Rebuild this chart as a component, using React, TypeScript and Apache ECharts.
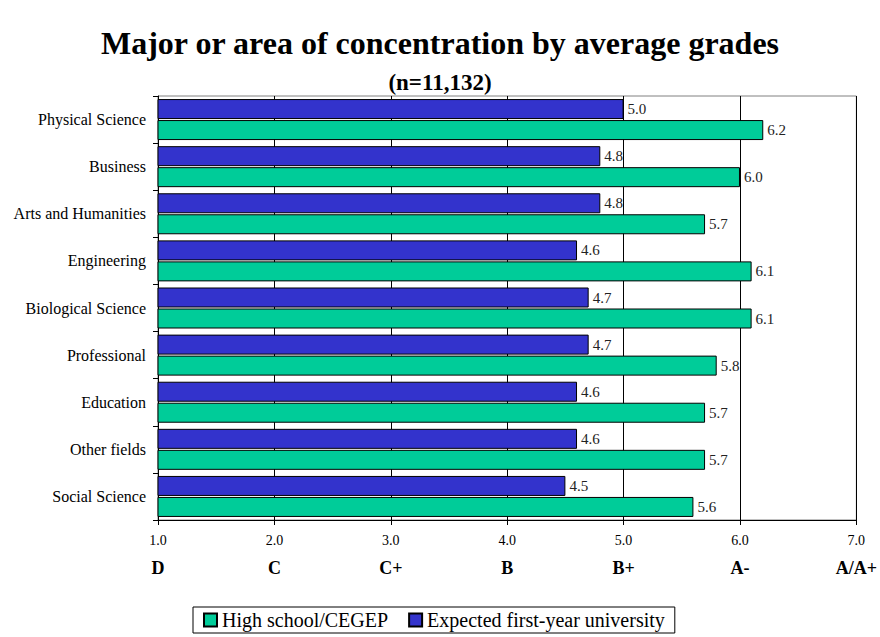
import React, { useEffect, useRef } from "react";
import * as echarts from "echarts";

const categories = [
  "Physical Science",
  "Business",
  "Arts and Humanities",
  "Engineering",
  "Biological Science",
  "Professional",
  "Education",
  "Other fields",
  "Social Science",
];
const highSchool = [6.2, 6.0, 5.7, 6.1, 6.1, 5.8, 5.7, 5.7, 5.6];
const expectedUniversity = [5.0, 4.8, 4.8, 4.6, 4.7, 4.7, 4.6, 4.6, 4.5];
const gradeLetters = ["D", "C", "C+", "B", "B+", "A-", "A/A+"];
const seriesNames = ["High school/CEGEP", "Expected first-year university"];

const FONT = '"Liberation Serif", "Times New Roman", serif';

export default function App() {
  const ref = useRef<HTMLDivElement>(null);
  useEffect(() => {
    if (!ref.current) return;
    const chart = echarts.init(ref.current, undefined, { renderer: "svg" });
    const labelCfg = {
      show: true,
      position: "right",
      distance: 4,
      fontFamily: FONT,
      fontSize: 15,
      color: "#222",
      formatter: (p: any) => Number(p.value).toFixed(1),
    };
    chart.setOption({
      animation: false,
      backgroundColor: "#fff",
      title: [
        {
          text: "Major or area of concentration by average grades",
          left: "center",
          top: 22,
          textStyle: { fontFamily: FONT, fontSize: 32, fontWeight: "bold", color: "#000" },
        },
        {
          text: "(n=11,132)",
          left: "center",
          top: 66,
          textStyle: { fontFamily: FONT, fontSize: 23, fontWeight: "bold", color: "#000" },
        },
      ],
      legend: {
        data: seriesNames,
        left: 193,
        top: 607,
        orient: "horizontal",
        icon: "rect",
        itemWidth: 13,
        itemHeight: 13,
        itemGap: 20,
        padding: [3, 10],
        borderColor: "#000",
        borderWidth: 1,
        textStyle: { fontFamily: FONT, fontSize: 20, color: "#000" },
      },
      grid: {
        left: 158,
        right: 19,
        top: 96,
        height: 424,
        show: true,
        borderColor: "#808080",
        borderWidth: 1,
        backgroundColor: "transparent",
      },
      xAxis: [
        {
          type: "value",
          min: 1,
          max: 7,
          interval: 1,
          axisLine: { show: true, lineStyle: { color: "#000", width: 1 } },
          axisTick: { show: true, length: 5, lineStyle: { color: "#000" } },
          splitLine: { show: true, lineStyle: { color: "#000", width: 1 } },
          axisLabel: {
            show: true,
            margin: 13,
            fontFamily: FONT,
            fontSize: 14,
            color: "#000",
            showMinLabel: true,
            showMaxLabel: true,
            formatter: (v: number) => v.toFixed(1),
          },
        },
        {
          type: "value",
          min: 1,
          max: 7,
          interval: 1,
          position: "bottom",
          axisLine: { show: false },
          axisTick: { show: false },
          splitLine: { show: false },
          axisLabel: {
            show: true,
            margin: 39,
            fontFamily: FONT,
            fontSize: 18,
            fontWeight: "bold",
            color: "#000",
            showMinLabel: true,
            showMaxLabel: true,
            formatter: (v: number) => gradeLetters[Math.round(v) - 1] ?? "",
          },
        },
      ],
      yAxis: {
        type: "category",
        inverse: true,
        data: categories,
        axisLine: { show: true, lineStyle: { color: "#000", width: 1 } },
        axisTick: { show: true, length: 5, lineStyle: { color: "#000" } },
        splitLine: { show: false },
        axisLabel: { margin: 12, fontFamily: FONT, fontSize: 16, color: "#000" },
      },
      series: [
        {
          name: seriesNames[1],
          type: "bar",
          data: expectedUniversity,
          barWidth: 20,
          barGap: "5%",
          clip: true,
          itemStyle: { color: "#3333CC", borderColor: "#000", borderWidth: 1 },
          label: labelCfg,
        },
        {
          name: seriesNames[0],
          type: "bar",
          data: highSchool,
          barWidth: 20,
          barGap: "5%",
          clip: true,
          itemStyle: { color: "#00CC99", borderColor: "#000", borderWidth: 1 },
          label: labelCfg,
        },
      ],
    });
    return () => chart.dispose();
  }, []);
  return (
    <div
      ref={ref}
      style={{ position: "fixed", left: 0, top: 0, width: 880, height: 637 }}
    />
  );
}
